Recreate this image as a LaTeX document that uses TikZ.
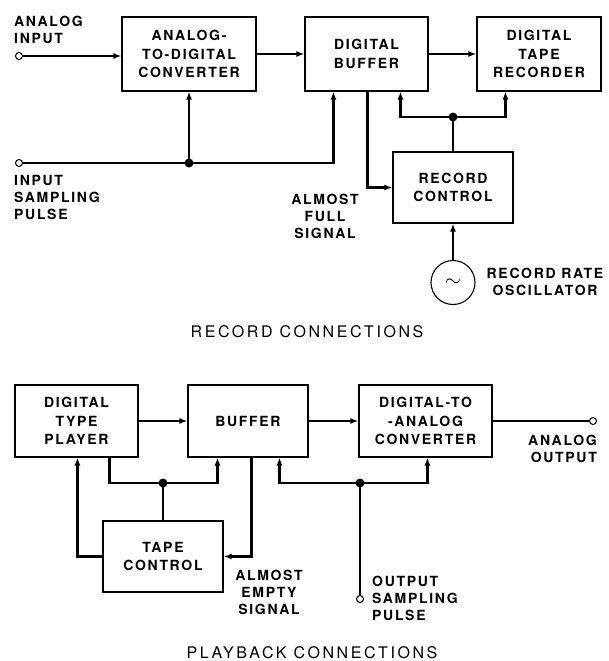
\documentclass[tikz,border=0pt]{standalone}
\usepackage{fontspec}
\newfontfamily\lblfont[LetterSpace=12]{TeX Gyre Heros}
\newfontfamily\capfont[LetterSpace=16]{TeX Gyre Heros}
\usetikzlibrary{positioning,arrows.meta,calc}

\begin{document}
\begin{tikzpicture}[x=1pt, y=-1pt, >={Latex[length=8pt,width=6pt]},
    block/.style={draw, line width=1.1pt, align=center, inner sep=0pt,
      font=\lblfont\bfseries\fontsize{14}{18.5}\selectfont},
    lbl/.style={inner sep=0pt, font=\lblfont\bfseries\fontsize{14}{17}\selectfont},
    caption/.style={inner sep=0pt, font=\capfont\fontsize{16}{18}\selectfont},
    term/.style={circle, draw, line width=1pt, fill=white, minimum size=7pt, inner sep=0pt},
    conn/.style={line width=2.6pt, ->},
    wire/.style={line width=2.6pt},
    dot/.style={fill=black}]
    \useasboundingbox (0,0) rectangle (609,661);

    % --- Record connections ---
    \node[block, minimum width=134pt, minimum height=74pt] (adc) at (189,54) {ANALOG-\\TO-DIGITAL\\CONVERTER};
    \node[block, minimum width=123pt, minimum height=74pt] (buf) at (366.5,54) {DIGITAL\\BUFFER};
    \node[block, minimum width=124pt, minimum height=74pt] (rec) at (539,54) {DIGITAL\\TAPE\\RECORDER};
    \node[block, minimum width=120pt, minimum height=71pt] (rc) at (453,187.5) {RECORD\\CONTROL};
    \node[circle, draw, line width=1.1pt, minimum size=44pt, inner sep=0pt, font=\huge\bfseries] (osc) at (453,282.5) {$\sim$};

    \node[term] (ain) at (19,56) {};
    \node[term] (isp) at (19,163) {};
    \coordinate (j1) at (189,163);
    \coordinate (j2) at (453,117);

    \draw[conn] (ain.east) -- (ain -| adc.west);
    \draw[conn] (adc.east) -- (buf.west);
    \draw[conn] (buf.east) -- (rec.west);
    \draw[conn] (isp.east) -| ([xshift=29pt]buf.south west);
    \draw[conn] (j1) -- (adc.south);
    \draw[conn] ([xshift=63pt]buf.south west) |- (rc.west);
    \draw[wire] (rc.north) -- (j2);
    \draw[conn] (j2) -| ([xshift=96pt]buf.south west);
    \draw[conn] (j2) -| ([xshift=29pt]rec.south west);
    \draw[conn] (osc.north) -- (rc.south);
    \fill[dot] (j1) circle (4.5pt);
    \fill[dot] (j2) circle (4.5pt);

    \node[lbl, anchor=west, align=left] (ainl) at (14,30) {ANALOG\\INPUT};
    \node[lbl, anchor=west, align=left] (ispl) at (14,197) {INPUT\\SAMPLING\\PULSE};
    \node[lbl, align=center] (afs) at (325,216) {ALMOST\\FULL\\SIGNAL};
    \node[lbl, align=center] (oscl) at (545,282) {RECORD RATE\\OSCILLATOR};
    \node[caption] (rcap) at (307,332) {RECORD CONNECTIONS};

    % --- Playback connections ---
    \node[block, minimum width=123pt, minimum height=72pt] (pl) at (76.5,421) {DIGITAL\\TYPE\\PLAYER};
    \node[block, minimum width=120pt, minimum height=72pt] (bf) at (248,421) {BUFFER};
    \node[block, minimum width=133pt, minimum height=72pt] (dac) at (425.5,421) {DIGITAL-TO\\-ANALOG\\CONVERTER};
    \node[block, minimum width=120pt, minimum height=71pt] (tc) at (163,556.5) {TAPE\\CONTROL};

    \node[term] (aout) at (593,421) {};
    \node[term] (osp) at (360,599) {};
    \coordinate (j3) at (163,483);
    \coordinate (j4) at (360,483);

    \draw[conn] (pl.east) -- (bf.west);
    \draw[conn] (bf.east) -- (dac.west);
    \draw[wire] (dac.east) -- (aout.west);
    \draw[conn] ([xshift=95pt]pl.south west) |- (j3) -| ([xshift=30pt]bf.south west);
    \draw[wire] (tc.north) -- (j3);
    \draw[conn] (tc.west) -| ([xshift=63pt]pl.south west);
    \draw[conn] ([xshift=64pt]bf.south west) |- (tc.east);
    \draw[wire] (osp.north) -- (j4);
    \draw[conn] (j4) -| ([xshift=69pt]dac.south west);
    \draw[conn] (j4) -| ([xshift=92pt]bf.south west);
    \fill[dot] (j3) circle (4.5pt);
    \fill[dot] (j4) circle (4.5pt);

    \node[lbl, anchor=east, align=right] (aoutl) at (597,449) {ANALOG\\OUTPUT};
    \node[lbl, align=center] (aes) at (269,592) {ALMOST\\EMPTY\\SIGNAL};
    \node[lbl, anchor=west, align=left] (ospl) at (372,598) {OUTPUT\\SAMPLING\\PULSE};
    \node[caption] (pcap) at (312,653) {PLAYBACK CONNECTIONS};
\end{tikzpicture}
\end{document}
